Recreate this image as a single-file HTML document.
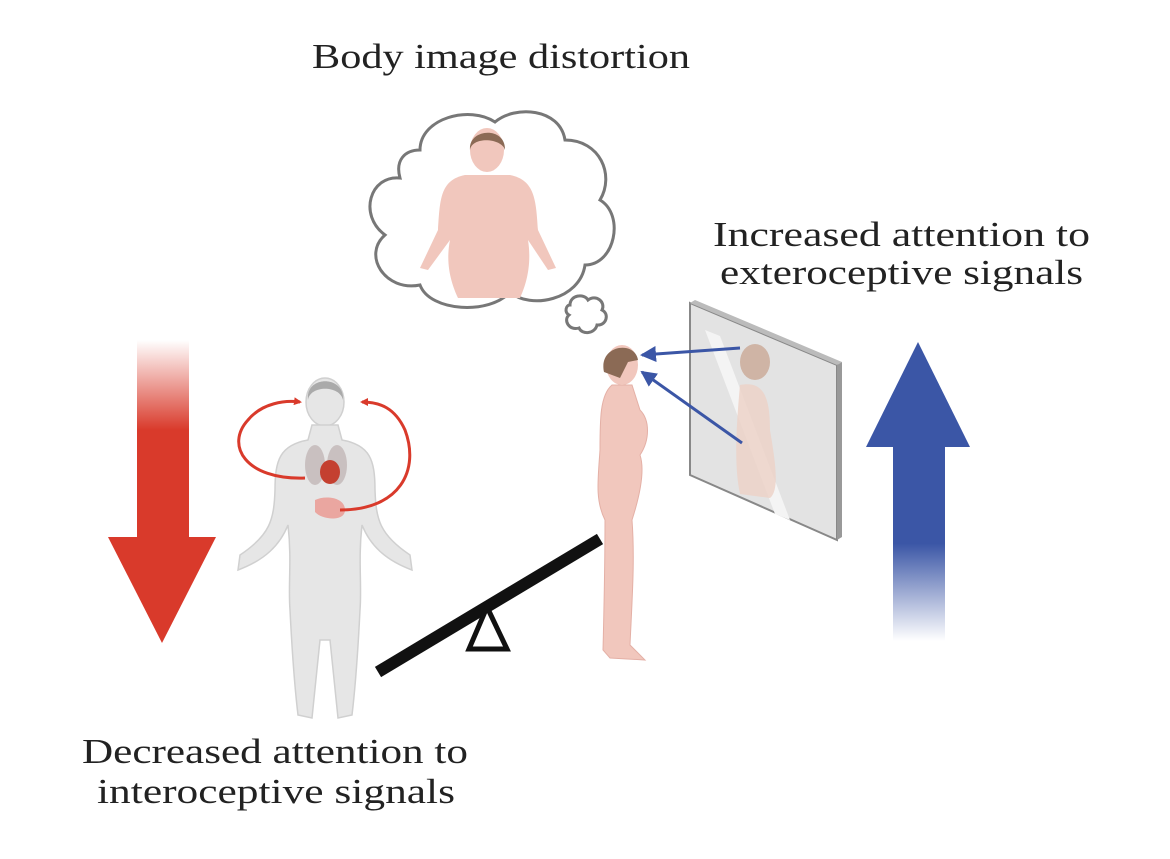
<!DOCTYPE html>
<html><head><meta charset="utf-8"><style>
html,body{margin:0;padding:0;background:#fff;}
svg{display:block;}
text{font-family:"Liberation Serif",serif;fill:#222;}
</style></head><body>
<svg width="1170" height="859" viewBox="0 0 1170 859" xmlns="http://www.w3.org/2000/svg">
<defs>
<linearGradient id="rg" x1="0" y1="0" x2="0" y2="1">
<stop offset="0" stop-color="#d93a2b" stop-opacity="0"/>
<stop offset="0.45" stop-color="#d93a2b" stop-opacity="1"/>
<stop offset="1" stop-color="#d93a2b"/>
</linearGradient>
<linearGradient id="bg" x1="0" y1="0" x2="0" y2="1">
<stop offset="0" stop-color="#3b56a6"/>
<stop offset="0.5" stop-color="#3b56a6"/>
<stop offset="1" stop-color="#3b56a6" stop-opacity="0"/>
</linearGradient>
<marker id="ra" markerWidth="8" markerHeight="8" refX="6" refY="4" orient="auto" markerUnits="userSpaceOnUse"><path d="M0,0 L8,4 L0,8z" fill="#d93a2b"/></marker>
<marker id="ba" markerWidth="16" markerHeight="16" refX="14" refY="8" orient="auto" markerUnits="userSpaceOnUse"><path d="M0,0 L16,8 L0,16z" fill="#3b56a6"/></marker>
</defs>

<text x="312" y="68" font-size="35" textLength="378" lengthAdjust="spacingAndGlyphs">Body image distortion</text>
<text x="713" y="246" font-size="35" textLength="377" lengthAdjust="spacingAndGlyphs">Increased attention to</text>
<text x="720" y="284" font-size="35" textLength="363" lengthAdjust="spacingAndGlyphs">exteroceptive signals</text>
<text x="82" y="763" font-size="35" textLength="386" lengthAdjust="spacingAndGlyphs">Decreased attention to</text>
<text x="97" y="803" font-size="35" textLength="358" lengthAdjust="spacingAndGlyphs">interoceptive signals</text>

<path d="M420,150 C420,118 470,105 495,122 C515,105 560,108 565,140 C600,140 615,175 600,200 C625,215 615,265 585,265 C580,300 530,310 510,292 C490,315 430,312 420,285 C385,292 362,255 385,235 C358,215 370,175 400,178 C395,160 405,150 420,150Z" fill="#fff" stroke="#777" stroke-width="3"/>
<path d="M570,305 c0,-10 14,-12 18,-5 c8,-6 18,2 14,10 c8,4 4,16 -5,15 c-2,9 -15,10 -18,3 c-10,3 -16,-8 -10,-13 c-5,-3 -3,-10 1,-10z" fill="#fff" stroke="#777" stroke-width="3"/>
<ellipse cx="487" cy="150" rx="17" ry="22" fill="#f1c7bd"/>
<path d="M470,150 C468,128 506,126 505,150 C502,138 472,136 470,150Z" fill="#8b6a55"/>
<path d="M465,175 C440,180 440,200 438,230 L420,268 L428,270 L450,240 C445,265 452,285 458,298 L520,298 C526,285 532,265 528,240 L548,270 L556,268 L538,230 C536,200 535,180 510,175 Z" fill="#f1c7bd"/>

<rect x="137" y="340" width="52" height="200" fill="url(#rg)"/>
<polygon points="108,537 216,537 162,643" fill="#d93a2b"/>
<polygon points="866,447 970,447 918,342" fill="#3b56a6"/>
<rect x="893" y="446" width="52" height="195" fill="url(#bg)"/>

<g fill="#e6e6e6" stroke="#d0d0d0" stroke-width="1.5">
<ellipse cx="325" cy="402" rx="19" ry="24"/>
<path d="M312,425 L338,425 L342,440 C370,445 375,460 375,490 C376,520 380,535 410,555 L412,570 C385,560 370,545 362,525 C358,560 362,585 360,610 C358,650 355,690 352,715 L338,718 L330,640 L320,640 L312,718 L298,715 C295,690 292,650 290,610 C288,585 292,560 288,525 C280,545 265,560 238,570 L240,555 C270,535 274,520 275,490 C275,460 280,445 308,440Z"/>
</g>
<path d="M308,400 C305,375 345,375 343,400 C340,385 310,385 308,400Z" fill="#aaa"/>
<ellipse cx="315" cy="465" rx="10" ry="20" fill="#c9c0c0"/>
<ellipse cx="337" cy="465" rx="10" ry="20" fill="#c9c0c0"/>
<ellipse cx="330" cy="472" rx="10" ry="12" fill="#c44030"/>
<path d="M315,500 C325,495 345,497 345,510 C345,522 322,520 315,512Z" fill="#eaa6a0"/>
<path d="M305,478 C245,480 225,445 248,420 C262,403 285,400 300,402" fill="none" stroke="#d93a2b" stroke-width="3" marker-end="url(#ra)"/>
<path d="M340,510 C400,510 420,470 405,430 C395,408 380,402 362,402" fill="none" stroke="#d93a2b" stroke-width="3" marker-end="url(#ra)"/>

<line x1="378" y1="672" x2="600" y2="539" stroke="#111" stroke-width="12"/>
<polygon points="487,607 469,649 507,649" fill="#fff" stroke="#111" stroke-width="5"/>

<polygon points="690,303 837,365 837,540 690,475" fill="#e3e3e3" stroke="#888" stroke-width="2"/>
<polygon points="690,303 837,365 842,362 695,300" fill="#bbb"/>
<polygon points="837,365 842,362 842,537 837,540" fill="#999"/>
<polygon points="705,330 720,336 790,520 775,514" fill="#f4f4f4"/>
<ellipse cx="755" cy="362" rx="15" ry="18" fill="#c9a895" opacity="0.8"/>
<path d="M740,385 C765,380 770,400 770,430 C775,460 780,490 770,498 L740,494 C735,470 735,440 740,385Z" fill="#ecd2c8" opacity="0.85"/>

<path d="M612,385 C600,395 600,420 600,450 C598,480 595,500 605,520 C605,560 604,610 603,650 L610,658 L645,660 L630,645 C632,600 635,560 632,520 C640,495 645,470 640,455 C650,440 650,420 640,410 L632,385Z" fill="#f1c7bd" stroke="#e4b0a6"/>
<ellipse cx="622" cy="365" rx="16" ry="20" fill="#f1c7bd"/>
<path d="M604,372 C598,345 635,340 638,360 L628,362 L620,378 Z" fill="#8b6a55"/>
<line x1="740" y1="348" x2="642" y2="355" stroke="#3b56a6" stroke-width="3" marker-end="url(#ba)"/>
<line x1="742" y1="443" x2="642" y2="372" stroke="#3b56a6" stroke-width="3" marker-end="url(#ba)"/>
</svg>
</body></html>
